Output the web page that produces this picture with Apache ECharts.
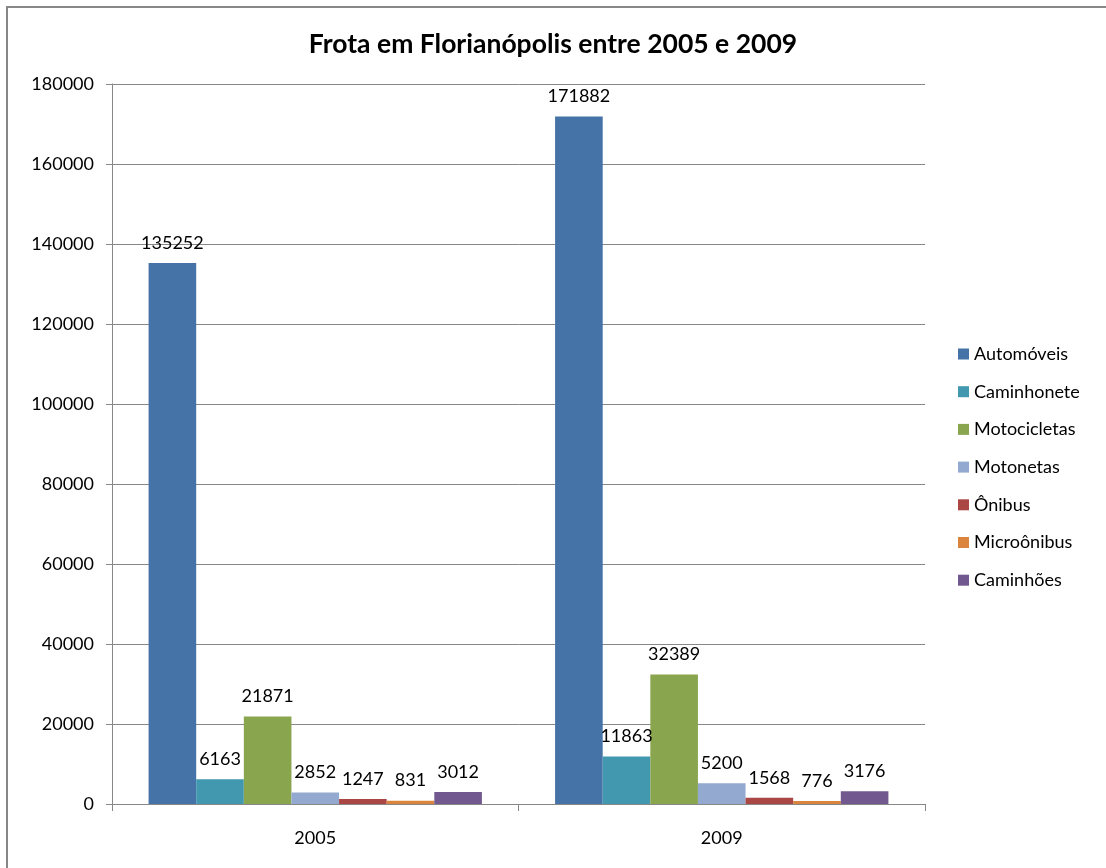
<!DOCTYPE html>
<html>
<head>
<meta charset="utf-8">
<title>Frota em Florianópolis</title>
<script src="https://cdn.jsdelivr.net/npm/echarts@6/dist/echarts.min.js"></script>
<style>
  html, body { margin: 0; padding: 0; background: #fff; }
  #chart { width: 1106px; height: 868px; }
</style>
</head>
<body>
<div id="chart"></div>
<script>
// anos (categorias do eixo x)
const years = ['2005', '2009'];
// tipos de veículo (séries)
const vehicleTypes = ['Automóveis', 'Caminhonete', 'Motocicletas', 'Motonetas', 'Ônibus', 'Microônibus', 'Caminhões'];
// valores por tipo: [2005, 2009]
const automoveis = [135252, 171882];
const caminhonete = [6163, 11863];
const motocicletas = [21871, 32389];
const motonetas = [2852, 5200];
const onibus = [1247, 1568];
const microonibus = [831, 776];
const caminhoes = [3012, 3176];

const seriesValues = [automoveis, caminhonete, motocicletas, motonetas, onibus, microonibus, caminhoes];
const colors = ['#4572A7', '#4198AF', '#89A54E', '#93A9CF', '#AA4643', '#DB843D', '#71588F'];
const font = 'Lato, "Liberation Sans", sans-serif';

const chart = echarts.init(document.getElementById('chart'));

const option = {
  animation: false,
  color: colors,
  title: {
    text: 'Frota em Florianópolis entre 2005 e 2009',
    left: 'center',
    top: 26,
    textStyle: { fontFamily: font, fontSize: 26.5, fontWeight: 'bold', color: '#000' }
  },
  // moldura do gráfico (só aparecem os lados esquerdo e superior)
  graphic: [{
    type: 'rect',
    shape: { x: 7, y: 7, width: 1200, height: 1000 },
    style: { fill: 'none', stroke: '#878787', lineWidth: 2 },
    silent: true
  }],
  legend: {
    orient: 'vertical',
    left: 953,
    top: 340,
    itemWidth: 11,
    itemHeight: 11,
    itemGap: 19.7,
    icon: 'rect',
    textStyle: { fontFamily: font, fontSize: 18, color: '#000' },
    data: vehicleTypes
  },
  grid: { left: 112, right: 181, top: 84, bottom: 64 },
  xAxis: {
    type: 'category',
    data: years,
    axisLine: { lineStyle: { color: '#878787', width: 1 } },
    axisTick: { show: true, length: 7, lineStyle: { color: '#878787' } },
    axisLabel: { fontFamily: font, fontSize: 18, color: '#000', margin: 25 }
  },
  yAxis: {
    type: 'value',
    min: 0,
    max: 180000,
    interval: 20000,
    axisLine: { show: true, lineStyle: { color: '#878787', width: 1 } },
    axisTick: { show: true, length: 6, lineStyle: { color: '#878787' } },
    axisLabel: { fontFamily: font, fontSize: 18, color: '#000', margin: 18, formatter: function (v) { return String(v); } },
    splitLine: { lineStyle: { color: '#878787', width: 1 } }
  },
  series: vehicleTypes.map(function (name, i) {
    return {
      name: name,
      type: 'bar',
      data: seriesValues[i],
      barGap: '0%',
      barCategoryGap: '18%',
      label: {
        show: true,
        position: 'top',
        distance: 11,
        fontFamily: font,
        fontSize: 18,
        color: '#000'
      }
    };
  })
};

chart.setOption(option);
</script>
</body>
</html>
